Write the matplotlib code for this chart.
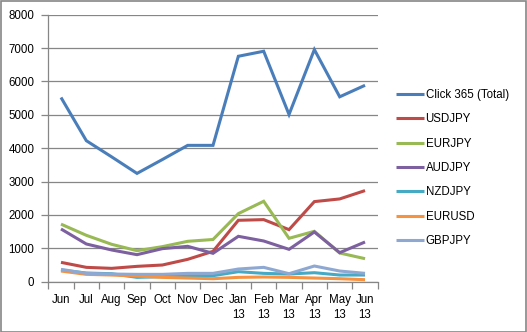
import matplotlib
matplotlib.use("Agg")
import matplotlib.pyplot as plt
from matplotlib.patches import Rectangle
from matplotlib.ticker import FixedLocator, NullFormatter

plt.rcParams['font.family'] = ['Liberation Sans', 'DejaVu Sans']

categories = ["Jun", "Jul", "Aug", "Sep", "Oct", "Nov", "Dec",
              "Jan\n13", "Feb\n13", "Mar\n13", "Apr\n13", "May\n13", "Jun\n13"]

click365 = [5520, 4225, 3740, 3245, 3660, 4085, 4085, 6755, 6905, 5010, 6955, 5540, 5885]
usdjpy   = [580, 430, 400, 460, 500, 670, 910, 1840, 1860, 1560, 2400, 2480, 2730]
eurjpy   = [1725, 1390, 1120, 930, 1050, 1210, 1265, 2040, 2410, 1300, 1510, 860, 690]
audjpy   = [1580, 1130, 950, 810, 990, 1060, 850, 1360, 1220, 970, 1490, 870, 1190]
nzdjpy   = [350, 260, 240, 130, 150, 180, 180, 300, 250, 230, 270, 200, 200]
eurusd   = [320, 220, 200, 170, 130, 110, 90, 130, 140, 130, 110, 90, 60]
gbpjpy   = [370, 250, 230, 220, 220, 250, 250, 380, 430, 240, 470, 320, 250]

series_names = ["Click 365 (Total)", "USDJPY", "EURJPY", "AUDJPY", "NZDJPY", "EURUSD", "GBPJPY"]
series_values = [click365, usdjpy, eurjpy, audjpy, nzdjpy, eurusd, gbpjpy]
colors = ["#4A7EBB", "#BE4B48", "#98B954", "#7D60A0", "#46AAC5", "#F69240", "#8EA8D2"]

fig = plt.figure(figsize=(5.27, 3.32), dpi=100)
ax = fig.add_axes([0.0917, 0.1515, 0.625, 0.8042])

x = [i + 0.5 for i in range(len(categories))]
for name, vals, c in zip(series_names, series_values, colors):
    ax.plot(x, vals, color=c, lw=2.2, label=name, solid_joinstyle='miter', solid_capstyle='butt')

ax.set_xlim(0, len(categories))
ax.set_ylim(0, 8000)
ax.set_yticks(range(0, 8001, 1000))
ax.yaxis.grid(True, color='#868686', lw=0.9)
ax.set_axisbelow(True)

ax.xaxis.set_major_locator(FixedLocator(list(range(len(categories) + 1))))
ax.xaxis.set_major_formatter(NullFormatter())
ax.xaxis.set_minor_locator(FixedLocator(x))
ax.set_xticklabels(categories, minor=True)
ax.tick_params(axis='x', which='major', length=5, width=0.9, color='#868686', direction='out')
ax.tick_params(axis='x', which='minor', length=0, pad=9, labelsize=8.3)
ax.tick_params(axis='y', length=5, width=0.9, color='#868686', direction='out', pad=5, labelsize=8.3)
for lbl in ax.get_xticklabels(minor=True):
    lbl.set_linespacing(1.35)
    lbl.set_verticalalignment('top')

for s in ['top', 'right']:
    ax.spines[s].set_visible(False)
for s in ['left', 'bottom']:
    ax.spines[s].set_color('#868686')
    ax.spines[s].set_linewidth(0.9)

leg = ax.legend(loc='upper left', bbox_to_anchor=(0.7507, 0.733), bbox_transform=fig.transFigure,
                frameon=False, fontsize=8.3, handlelength=2.45, handletextpad=0.15,
                labelspacing=1.08, borderaxespad=0, borderpad=0)

fig.add_artist(Rectangle((0.001, 0.0015), 0.997, 0.996, transform=fig.transFigure,
                         fill=False, edgecolor='#868686', lw=1.2))

fig.savefig("out.png", dpi=100)
